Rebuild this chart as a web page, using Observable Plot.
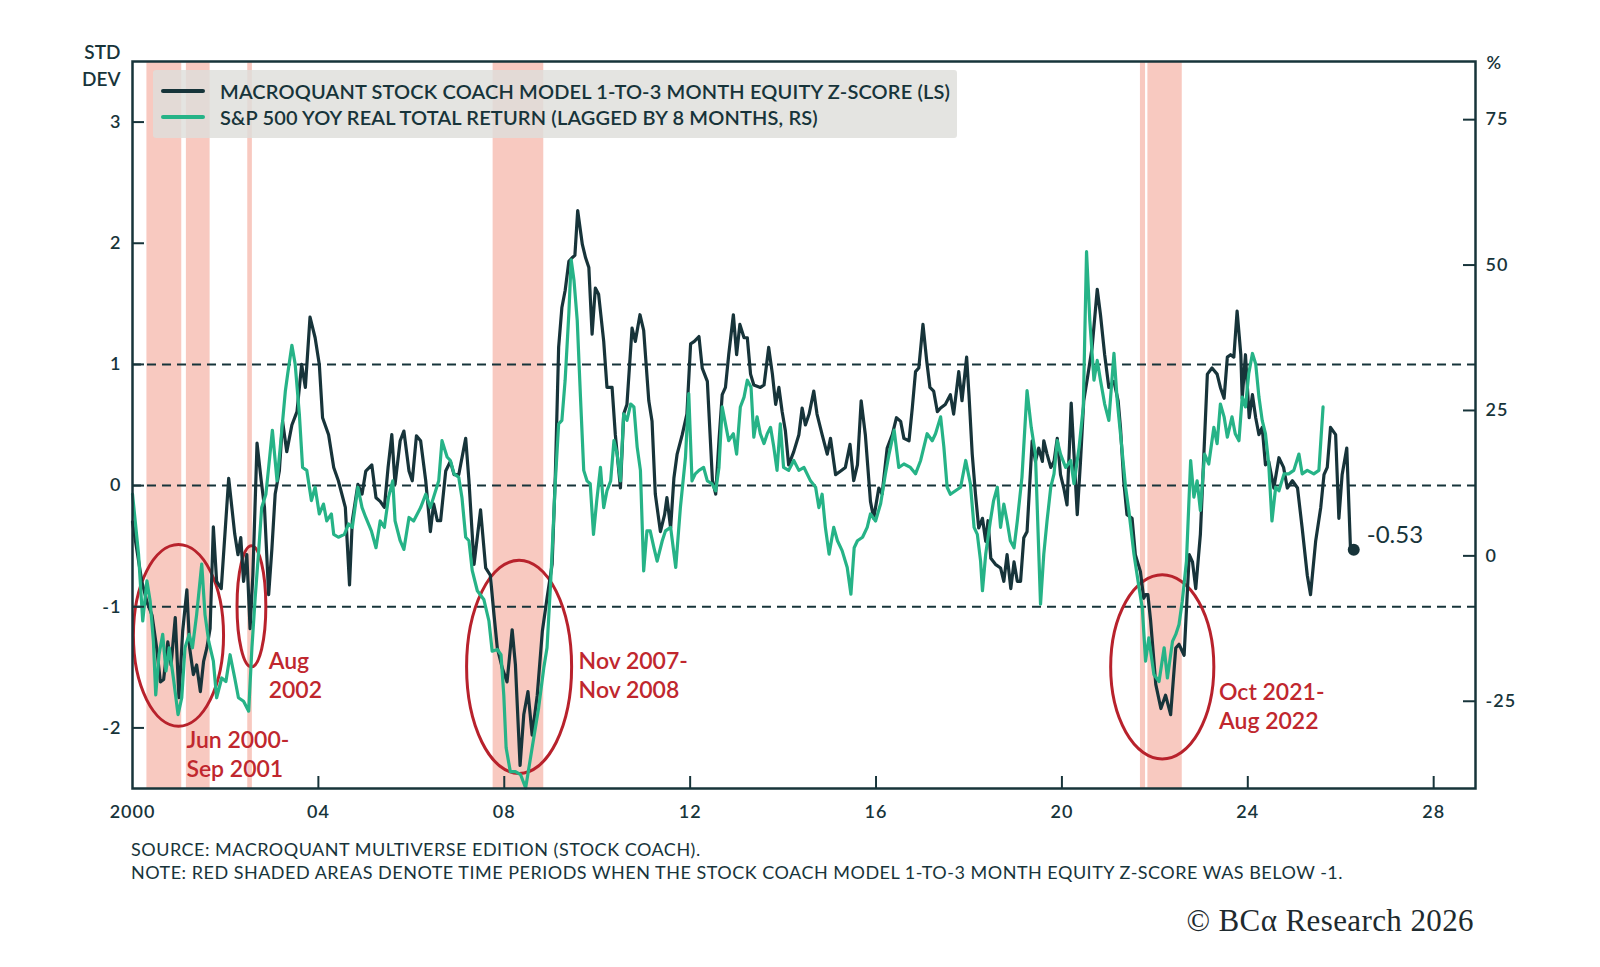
<!DOCTYPE html>
<html>
<head>
<meta charset="utf-8">
<script src="https://cdn.jsdelivr.net/npm/d3@7"></script>
<script src="https://cdn.jsdelivr.net/npm/@observablehq/plot@0.6"></script>
<style>
  body { margin: 0; background: #fff; }
  #wrap { position: relative; width: 1600px; height: 967px; font-family: Lato, "Noto Sans", sans-serif; color: #17343a; }
  #chart svg g[aria-label="x-axis tick label"] text,
  #chart svg g[aria-label="y-axis tick label"] text { letter-spacing: 1px; }
  #legend { position: absolute; left: 153px; top: 70px; width: 804px; height: 68px;
    background: rgba(222, 222, 218, 0.82); border-radius: 3px; }
  .row { position: absolute; left: 0; height: 24px; display: flex; align-items: center; }
  .sw { width: 44px; height: 4px; margin-left: 8px; margin-right: 15px; border-radius: 2px; }
  .row span { font-size: 20px; font-weight: 600; letter-spacing: 0.15px; white-space: nowrap; }
  #notes { position: absolute; left: 131px; top: 838px; font-size: 18px; line-height: 23px; letter-spacing: 0.5px; }
  #copy { position: absolute; right: 126px; top: 902px; font-family: "Liberation Serif", "DejaVu Serif", serif;
    font-size: 31px; line-height: 38px; letter-spacing: 0.4px; color: #1e2a2e; }
</style>
</head>
<body>
<div id="wrap">
  <div id="chart"></div>
  <div id="legend">
    <div class="row" style="top:9px"><div class="sw" style="background:#17343a"></div><span>MACROQUANT STOCK COACH MODEL 1-TO-3 MONTH EQUITY Z-SCORE (LS)</span></div>
    <div class="row" style="top:35px"><div class="sw" style="background:#26b387"></div><span>S&amp;P 500 YOY REAL TOTAL RETURN (LAGGED BY 8 MONTHS, RS)</span></div>
  </div>
  <div id="notes">SOURCE: MACROQUANT MULTIVERSE EDITION (STOCK COACH).<br>NOTE: RED SHADED AREAS DENOTE TIME PERIODS WHEN THE STOCK COACH MODEL 1-TO-3 MONTH EQUITY Z-SCORE WAS BELOW -1.</div>
  <div id="copy">© BCα Research 2026</div>
</div>
<script>
// z-score de Stock Coach (eje izquierdo), [año, valor]
const zscore = [
  [2000.00,-0.30],[2000.20,-0.79],[2000.31,-0.96],[2000.42,-1.07],[2000.52,-1.34],[2000.60,-1.62],[2000.67,-1.60],
  [2000.76,-1.29],[2000.83,-1.48],[2000.92,-1.09],[2001.00,-1.75],[2001.08,-1.20],[2001.17,-0.86],[2001.23,-1.34],
  [2001.31,-1.56],[2001.38,-1.48],[2001.46,-1.70],[2001.53,-1.45],[2001.60,-1.34],[2001.67,-1.18],[2001.74,-0.34],
  [2001.81,-0.79],[2001.91,-0.85],[2002.07,0.06],[2002.20,-0.40],[2002.27,-0.57],[2002.33,-0.43],[2002.39,-0.79],
  [2002.46,-0.57],[2002.53,-1.18],[2002.59,-0.74],[2002.68,0.35],[2002.77,0.04],[2002.84,-0.18],[2002.93,-0.90],
  [2003.00,-0.52],[2003.07,-0.07],[2003.16,0.12],[2003.23,0.53],[2003.32,0.28],[2003.43,0.50],[2003.54,0.61],
  [2003.64,1.00],[2003.72,0.81],[2003.82,1.39],[2003.93,1.22],[2004.02,1.00],[2004.09,0.56],[2004.22,0.42],
  [2004.33,0.15],[2004.43,0.04],[2004.58,-0.18],[2004.67,-0.82],[2004.73,-0.29],[2004.85,0.01],[2004.94,-0.07],
  [2005.02,0.12],[2005.15,0.17],[2005.24,-0.10],[2005.33,-0.13],[2005.42,-0.18],[2005.50,0.15],[2005.58,0.42],
  [2005.65,0.01],[2005.76,0.37],[2005.84,0.45],[2005.95,0.12],[2006.02,0.04],[2006.11,0.41],[2006.20,0.37],
  [2006.31,0.04],[2006.41,-0.38],[2006.48,-0.15],[2006.56,-0.29],[2006.63,-0.29],[2006.74,0.12],[2006.84,0.20],
  [2006.92,0.09],[2007.02,0.09],[2007.17,0.39],[2007.24,0.04],[2007.35,-0.65],[2007.49,-0.20],[2007.60,-0.68],
  [2007.70,-0.74],[2007.78,-1.07],[2007.85,-1.34],[2007.96,-1.51],[2008.06,-1.62],[2008.17,-1.19],[2008.24,-1.48],
  [2008.34,-2.31],[2008.42,-1.89],[2008.51,-1.70],[2008.60,-2.06],[2008.71,-1.73],[2008.82,-1.20],[2008.92,-0.93],
  [2009.03,-0.65],[2009.10,0.10],[2009.17,1.14],[2009.24,1.47],[2009.31,1.61],[2009.39,1.85],[2009.46,1.88],
  [2009.52,1.90],[2009.58,2.27],[2009.68,1.99],[2009.75,1.88],[2009.82,1.80],[2009.89,1.25],[2009.96,1.63],
  [2010.03,1.58],[2010.14,1.19],[2010.21,0.81],[2010.32,0.81],[2010.39,0.42],[2010.50,-0.02],[2010.57,0.59],
  [2010.64,0.67],[2010.75,1.30],[2010.82,1.19],[2010.92,1.41],[2011.00,1.28],[2011.11,0.70],[2011.18,0.53],
  [2011.25,-0.07],[2011.36,-0.38],[2011.45,-0.24],[2011.50,-0.10],[2011.58,-0.35],[2011.65,0.06],[2011.72,0.26],
  [2011.83,0.42],[2011.93,0.59],[2012.01,1.17],[2012.09,1.19],[2012.19,1.23],[2012.26,0.97],[2012.37,0.86],
  [2012.48,0.04],[2012.55,-0.07],[2012.62,0.37],[2012.69,0.75],[2012.76,0.81],[2012.83,1.08],[2012.93,1.41],
  [2013.00,1.08],[2013.07,1.33],[2013.16,1.22],[2013.23,1.22],[2013.30,0.92],[2013.37,0.83],[2013.51,0.81],
  [2013.59,0.83],[2013.69,1.14],[2013.77,0.92],[2013.84,0.67],[2013.91,0.81],[2013.98,0.61],[2014.05,0.45],
  [2014.12,0.17],[2014.23,0.28],[2014.34,0.42],[2014.41,0.64],[2014.48,0.50],[2014.56,0.59],[2014.66,0.78],
  [2014.73,0.59],[2014.84,0.42],[2014.95,0.26],[2015.02,0.39],[2015.13,0.09],[2015.24,0.12],[2015.34,0.15],
  [2015.44,0.34],[2015.52,0.04],[2015.60,0.17],[2015.68,0.70],[2015.77,0.42],[2015.88,-0.13],[2015.95,-0.27],
  [2016.06,-0.02],[2016.13,-0.07],[2016.24,0.31],[2016.35,0.42],[2016.44,0.56],[2016.53,0.53],[2016.60,0.39],
  [2016.71,0.37],[2016.78,0.64],[2016.85,0.94],[2016.92,0.97],[2017.01,1.33],[2017.09,1.03],[2017.16,0.81],
  [2017.24,0.78],[2017.32,0.61],[2017.39,0.64],[2017.49,0.67],[2017.60,0.75],[2017.67,0.59],[2017.78,0.94],
  [2017.85,0.70],[2017.95,1.06],[2018.00,0.75],[2018.07,0.26],[2018.14,-0.07],[2018.21,-0.35],[2018.29,-0.27],
  [2018.36,-0.46],[2018.41,-0.29],[2018.47,-0.60],[2018.57,-0.65],[2018.68,-0.68],[2018.75,-0.79],[2018.82,-0.57],
  [2018.90,-0.85],[2018.97,-0.63],[2019.04,-0.79],[2019.11,-0.79],[2019.18,-0.43],[2019.25,-0.38],[2019.36,0.37],
  [2019.43,0.20],[2019.50,0.31],[2019.58,0.20],[2019.61,0.37],[2019.68,0.26],[2019.76,0.15],[2019.83,0.20],
  [2019.90,0.39],[2019.97,0.09],[2020.04,-0.02],[2020.11,-0.16],[2020.20,0.68],[2020.26,0.26],[2020.33,-0.24],
  [2020.40,0.20],[2020.47,0.70],[2020.55,0.89],[2020.65,1.14],[2020.76,1.62],[2020.83,1.41],[2020.92,1.08],
  [2021.01,0.81],[2021.12,0.86],[2021.21,0.70],[2021.26,0.48],[2021.33,0.04],[2021.40,-0.24],[2021.51,-0.27],
  [2021.58,-0.57],[2021.69,-0.71],[2021.76,-0.93],[2021.80,-0.90],[2021.85,-0.90],[2021.91,-1.12],[2022.02,-1.64],
  [2022.13,-1.84],[2022.23,-1.73],[2022.34,-1.89],[2022.45,-1.34],[2022.52,-1.31],[2022.63,-1.40],[2022.74,-0.57],
  [2022.81,-0.63],[2022.88,-0.85],[2022.98,-0.40],[2023.13,0.92],[2023.23,0.97],[2023.34,0.92],[2023.41,0.81],
  [2023.49,0.72],[2023.56,1.06],[2023.63,1.08],[2023.70,1.06],[2023.77,1.44],[2023.85,1.08],[2023.88,0.72],
  [2023.95,1.08],[2024.03,0.56],[2024.10,0.75],[2024.17,0.56],[2024.24,0.42],[2024.31,0.48],[2024.38,0.17],
  [2024.45,0.20],[2024.56,-0.02],[2024.67,0.23],[2024.77,0.15],[2024.85,-0.02],[2024.96,0.04],[2025.07,-0.02],
  [2025.17,-0.35],[2025.28,-0.74],[2025.35,-0.90],[2025.46,-0.46],[2025.57,-0.18],[2025.64,0.09],[2025.71,0.15],
  [2025.78,0.48],[2025.89,0.42],[2025.96,-0.27],[2026.03,0.09],[2026.13,0.31],[2026.21,-0.52],[2026.28,-0.53]
];

// S&P 500 retorno real a/a, desfasado 8 meses (eje derecho, %)
const sp500 = [
  [2000.00,10.6],[2000.13,0.3],[2000.22,-11.2],[2000.31,-4.3],[2000.38,-7.8],[2000.45,-14.7],[2000.50,-23.9],
  [2000.57,-17.0],[2000.65,-13.5],[2000.72,-19.8],[2000.79,-15.8],[2000.88,-21.0],[2000.98,-27.3],[2001.06,-24.4],
  [2001.13,-15.8],[2001.22,-13.5],[2001.29,-15.8],[2001.38,-10.1],[2001.49,-1.4],[2001.56,-10.1],[2001.64,-14.7],
  [2001.74,-18.1],[2001.81,-24.4],[2001.92,-21.0],[2002.01,-21.6],[2002.10,-17.0],[2002.20,-21.0],[2002.28,-24.4],
  [2002.39,-25.0],[2002.50,-26.7],[2002.57,-15.8],[2002.64,-7.2],[2002.71,0.3],[2002.78,8.3],[2002.87,10.6],
  [2002.93,15.2],[2003.01,21.6],[2003.11,12.9],[2003.18,18.7],[2003.29,28.4],[2003.34,31.3],[2003.43,36.2],
  [2003.50,33.0],[2003.59,24.4],[2003.66,15.2],[2003.75,14.7],[2003.85,9.5],[2003.93,11.8],[2004.02,7.2],
  [2004.11,8.9],[2004.18,6.0],[2004.28,7.2],[2004.33,3.7],[2004.43,3.2],[2004.56,3.7],[2004.65,5.5],[2004.73,4.9],
  [2004.85,11.8],[2004.94,8.3],[2005.02,6.6],[2005.14,4.3],[2005.24,1.4],[2005.33,6.0],[2005.42,4.9],[2005.51,10.1],
  [2005.60,12.9],[2005.65,6.0],[2005.76,2.6],[2005.84,1.1],[2005.95,6.6],[2006.05,6.0],[2006.20,8.3],[2006.31,10.6],
  [2006.41,8.3],[2006.48,10.1],[2006.59,12.9],[2006.66,19.8],[2006.77,17.0],[2006.84,16.4],[2006.92,14.1],
  [2007.02,13.5],[2007.09,10.0],[2007.17,3.2],[2007.24,2.6],[2007.31,-2.5],[2007.42,-6.0],[2007.56,-7.5],
  [2007.67,-11.2],[2007.74,-16.4],[2007.85,-16.1],[2007.93,-17.0],[2007.99,-24.0],[2008.04,-33.0],[2008.13,-37.1],
  [2008.24,-37.1],[2008.35,-37.6],[2008.46,-39.9],[2008.60,-33.0],[2008.74,-26.1],[2008.85,-19.3],[2008.92,-15.8],
  [2009.00,-4.3],[2009.10,12.9],[2009.17,22.7],[2009.24,23.3],[2009.31,30.2],[2009.39,41.7],[2009.44,50.9],
  [2009.50,47.4],[2009.57,40.5],[2009.64,27.3],[2009.71,14.7],[2009.78,12.9],[2009.85,12.4],[2009.92,3.7],
  [2009.99,9.5],[2010.07,15.2],[2010.14,8.3],[2010.21,11.2],[2010.29,12.9],[2010.36,19.8],[2010.43,17.5],
  [2010.50,12.9],[2010.57,24.4],[2010.64,23.3],[2010.72,26.1],[2010.79,25.6],[2010.86,18.7],[2010.93,14.7],
  [2011.00,-2.6],[2011.07,4.3],[2011.14,4.3],[2011.22,1.4],[2011.29,-0.9],[2011.40,2.6],[2011.47,4.3],[2011.58,4.9],
  [2011.69,-2.0],[2011.79,8.3],[2011.90,17.0],[2011.97,27.9],[2012.04,12.9],[2012.11,14.1],[2012.19,14.7],
  [2012.29,15.2],[2012.37,12.9],[2012.47,12.4],[2012.55,11.2],[2012.62,15.2],[2012.69,25.6],[2012.76,22.7],
  [2012.83,19.8],[2012.93,21.0],[2013.00,17.5],[2013.08,25.6],[2013.16,27.3],[2013.23,30.2],[2013.31,29.0],
  [2013.37,20.4],[2013.44,23.9],[2013.51,21.0],[2013.59,19.3],[2013.66,21.0],[2013.73,22.1],[2013.80,18.7],
  [2013.87,14.7],[2013.94,22.7],[2014.01,15.2],[2014.12,14.7],[2014.23,16.4],[2014.34,14.7],[2014.45,15.2],
  [2014.59,12.9],[2014.70,11.8],[2014.77,8.3],[2014.84,10.6],[2014.91,4.9],[2014.99,0.3],[2015.09,4.9],
  [2015.17,2.6],[2015.27,0.9],[2015.38,-2.0],[2015.46,-6.6],[2015.53,1.4],[2015.60,2.6],[2015.71,3.2],[2015.81,4.9],
  [2015.88,7.2],[2015.99,6.0],[2016.10,9.0],[2016.20,14.0],[2016.28,17.5],[2016.39,21.6],[2016.49,15.2],
  [2016.60,15.8],[2016.74,15.2],[2016.85,14.1],[2016.96,16.4],[2017.10,21.0],[2017.21,19.8],[2017.28,21.0],
  [2017.39,23.9],[2017.46,18.7],[2017.53,11.8],[2017.60,10.6],[2017.71,11.2],[2017.82,11.8],[2017.93,16.4],
  [2018.03,12.4],[2018.11,4.9],[2018.18,3.7],[2018.25,-0.9],[2018.29,-6.0],[2018.36,0.3],[2018.46,6.0],
  [2018.53,9.5],[2018.61,11.8],[2018.68,4.9],[2018.75,8.9],[2018.82,6.0],[2018.89,2.6],[2018.97,1.4],[2019.04,6.0],
  [2019.14,13.5],[2019.25,28.4],[2019.34,22.1],[2019.43,17.5],[2019.54,-8.3],[2019.61,0.3],[2019.68,6.0],
  [2019.76,11.8],[2019.83,14.1],[2019.90,19.8],[2019.97,17.5],[2020.08,15.2],[2020.19,16.4],[2020.26,12.4],
  [2020.37,18.7],[2020.46,25.6],[2020.53,52.3],[2020.60,40.5],[2020.69,30.2],[2020.76,33.6],[2020.83,30.2],
  [2020.92,26.1],[2021.01,23.3],[2021.12,34.8],[2021.19,26.7],[2021.26,21.0],[2021.37,11.8],[2021.44,7.8],
  [2021.55,0.3],[2021.66,-5.5],[2021.73,-9.0],[2021.80,-18.1],[2021.87,-14.1],[2021.98,-20.4],[2022.09,-21.6],
  [2022.20,-15.8],[2022.27,-21.0],[2022.38,-14.7],[2022.45,-13.5],[2022.52,-11.8],[2022.59,-7.8],[2022.68,-0.9],
  [2022.77,16.4],[2022.84,10.1],[2022.91,12.9],[2022.98,7.8],[2023.07,17.5],[2023.16,15.8],[2023.27,22.1],
  [2023.34,19.3],[2023.41,26.1],[2023.49,23.9],[2023.56,20.4],[2023.66,23.9],[2023.73,21.0],[2023.81,19.8],
  [2023.88,27.3],[2023.95,25.6],[2024.02,31.3],[2024.10,34.8],[2024.17,33.0],[2024.24,27.3],[2024.31,23.3],
  [2024.38,21.0],[2024.45,15.8],[2024.52,6.0],[2024.60,11.8],[2024.67,11.2],[2024.78,14.1],[2024.88,14.1],
  [2024.99,14.7],[2025.10,17.5],[2025.17,14.1],[2025.28,14.7],[2025.42,14.1],[2025.53,14.7],[2025.62,25.6]
];

// periodos con z-score < -1 (sombreado)
const belowMinusOne = [
  [2000.31, 2001.06], [2001.16, 2001.67], [2002.48, 2002.58],
  [2007.76, 2008.85], [2021.69, 2021.80], [2021.85, 2022.59]
];

const xTicks = [2000, 2004, 2008, 2012, 2016, 2020, 2024, 2028];
const zTicks = [-2, -1, 0, 1, 2, 3];
const rTicks = [-25, 0, 25, 50, 75];
const zGrid = [-1, 0, 1];

// episodios marcados con elipses (centro y radios en unidades de datos)
const episodes = [
  {x: 2001.00, y: -1.24, rx: 0.97, ry: 0.75, label: "Jun 2000-\nSep 2001", lx: 2001.16, ly: -2.21},
  {x: 2002.57, y: -1.00, rx: 0.31, ry: 0.50, label: "Aug\n2002", lx: 2002.93, ly: -1.56},
  {x: 2008.33, y: -1.50, rx: 1.13, ry: 0.88, label: "Nov 2007-\nNov 2008", lx: 2009.60, ly: -1.56},
  {x: 2022.17, y: -1.50, rx: 1.11, ry: 0.76, label: "Oct 2021-\nAug 2022", lx: 2023.38, ly: -1.815}
];

const DARK = "#17343a";
const GREEN = "#26b387";
const RED = "#b8222c";

// eje derecho: % -> unidades del eje izquierdo
const Z_MIN = -2.5, Z_MAX = 3.5, R_MIN = -40, R_MAX = 85;
const toZ = r => Z_MIN + (r - R_MIN) * (Z_MAX - Z_MIN) / (R_MAX - R_MIN);
const fromZ = z => R_MIN + (z - Z_MIN) * (R_MAX - R_MIN) / (Z_MAX - Z_MIN);

const W = 1600, H = 835, mt = 61, mr = 125, mb = 47, ml = 132;
const frameW = W - ml - mr, frameH = H - mt - mb;
const tickLen = 12;

function ellipses(index, scales) {
  const g = d3.create("svg:g").attr("fill", "none").attr("stroke", RED).attr("stroke-width", 3);
  for (const e of episodes) {
    const cx = scales.x(e.x), cy = scales.y(e.y);
    g.append("ellipse")
      .attr("cx", cx).attr("cy", cy)
      .attr("rx", Math.abs(scales.x(e.x + e.rx) - cx))
      .attr("ry", Math.abs(scales.y(e.y + e.ry) - cy));
  }
  return g.node();
}

const last = zscore[zscore.length - 1];

const chart = Plot.plot({
  width: W,
  height: H,
  marginTop: mt,
  marginRight: mr,
  marginBottom: mb,
  marginLeft: ml,
  style: {fontFamily: "Lato, 'Noto Sans', sans-serif", color: DARK, background: "#fff", overflow: "visible"},
  x: {domain: [2000, 2028.9]},
  y: {domain: [Z_MIN, Z_MAX]},
  marks: [
    Plot.rect(belowMinusOne, {x1: d => d[0], x2: d => d[1], fill: "#f7bfb5", fillOpacity: 0.85}),
    Plot.ruleY(zGrid, {stroke: DARK, strokeWidth: 2, strokeDasharray: "9,6"}),
    ellipses,
    Plot.line(zscore, {x: d => d[0], y: d => d[1], stroke: DARK, strokeWidth: 3.2}),
    Plot.line(sp500, {x: d => d[0], y: d => toZ(d[1]), stroke: GREEN, strokeWidth: 3.2}),
    Plot.dot([last], {x: d => d[0], y: d => d[1], r: 6, fill: DARK}),
    Plot.text([last], {x: d => d[0], y: d => d[1], text: d => d[1].toFixed(2), dx: 13, dy: -14,
      textAnchor: "start", fontSize: 24, fill: DARK}),
    Plot.text(episodes, {x: "lx", y: "ly", text: "label", textAnchor: "start", lineAnchor: "middle",
      lineHeight: 1.26, fontSize: 23, fontWeight: 600, fill: "#c0272e"}),
    // marcas de los ejes hacia dentro
    Plot.tickX(xTicks.slice(1), {x: d => d, stroke: DARK, strokeWidth: 2, insetTop: frameH - tickLen}),
    Plot.tickY(zTicks, {y: d => d, stroke: DARK, strokeWidth: 2, insetRight: frameW - tickLen}),
    Plot.tickY(rTicks.map(toZ), {y: d => d, stroke: DARK, strokeWidth: 2, insetLeft: frameW - tickLen}),
    Plot.axisX(xTicks, {tickSize: 0, tickPadding: 17, fontSize: 18, fontWeight: 600, label: null,
      tickFormat: d => d === 2000 ? "2000" : String(d % 100).padStart(2, "0")}),
    Plot.axisY(zTicks, {tickSize: 0, tickPadding: 11, fontSize: 18, fontWeight: 600, label: null,
      tickFormat: d => String(d)}),
    Plot.axisY(rTicks.map(toZ), {anchor: "right", tickSize: 0, tickPadding: 10, fontSize: 18, fontWeight: 600,
      label: null, tickFormat: d => String(Math.round(fromZ(d)))}),
    Plot.text(["STD\nDEV"], {frameAnchor: "top-left", textAnchor: "end", lineAnchor: "middle", dx: -12, dy: 2.5,
      lineHeight: 1.4, fontSize: 19, fontWeight: 600, fill: DARK}),
    Plot.text(["%"], {frameAnchor: "top-right", textAnchor: "start", lineAnchor: "middle", dx: 11, dy: 2,
      fontSize: 18, fontWeight: 600, fill: DARK}),
    Plot.frame({stroke: DARK, strokeWidth: 2.5})
  ]
});

document.getElementById("chart").appendChild(chart);
</script>
</body>
</html>
